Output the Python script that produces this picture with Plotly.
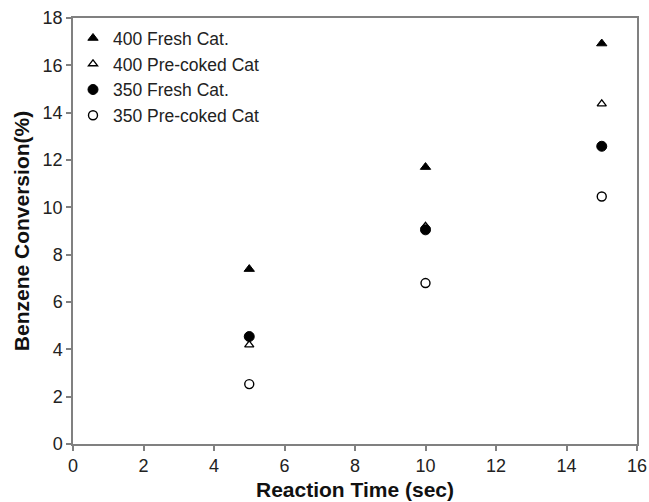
import plotly.graph_objects as go

reaction_time = [5, 10, 15]
fresh_400 = [7.39, 11.70, 16.92]
precoked_400 = [4.19, 9.2, 14.37]
fresh_350 = [4.54, 9.05, 12.58]
precoked_350 = [2.53, 6.80, 10.46]

series_names = ["400 Fresh Cat.", "400 Pre-coked Cat", "350 Fresh Cat.", "350 Pre-coked Cat"]
x_ticks = [0, 2, 4, 6, 8, 10, 12, 14, 16]
y_ticks = [0, 2, 4, 6, 8, 10, 12, 14, 16, 18]

FONT = "Liberation Sans, Arial, sans-serif"

fig = go.Figure()
styles = [
    dict(symbol="triangle-up", size=9, color="black", line=dict(color="black", width=1)),
    dict(symbol="triangle-up-open", size=8, color="black", line=dict(color="black", width=1.3)),
    dict(symbol="circle", size=10, color="black", line=dict(color="black", width=1)),
    dict(symbol="circle-open", size=9, color="black", line=dict(color="black", width=1.4)),
]
for name, vals, st in zip(series_names, [fresh_400, precoked_400, fresh_350, precoked_350], styles):
    fig.add_trace(go.Scatter(x=reaction_time, y=vals, mode="markers", name=name, marker=st))

axis_common = dict(
    showgrid=False, zeroline=False, showline=True, linecolor="#808080", linewidth=1.5,
    mirror=True, ticks="outside", ticklen=5, tickcolor="#808080", tickwidth=1.5,
    tickfont=dict(family=FONT, size=18, color="#222222"), automargin=False,
)
fig.update_layout(
    width=649, height=502,
    margin=dict(l=73, r=12, t=18, b=58),
    paper_bgcolor="white", plot_bgcolor="white",
    showlegend=True,
    legend=dict(x=0.0, y=0.995, xanchor="left", yanchor="top", bgcolor="rgba(0,0,0,0)",
                font=dict(family=FONT, size=17.5, color="#222222"), itemwidth=30,
                tracegroupgap=0),
    xaxis=dict(range=[0, 16], tickvals=x_ticks,
               title=dict(text="<b>Reaction Time (sec)</b>", font=dict(family=FONT, size=21, color="#111111"), standoff=7),
               **axis_common),
    yaxis=dict(range=[0, 18], tickvals=y_ticks,
               title=dict(text="<b>Benzene Conversion(%)</b>", font=dict(family=FONT, size=21, color="#111111"), standoff=7),
               **axis_common),
)

fig.write_html("out.html")
